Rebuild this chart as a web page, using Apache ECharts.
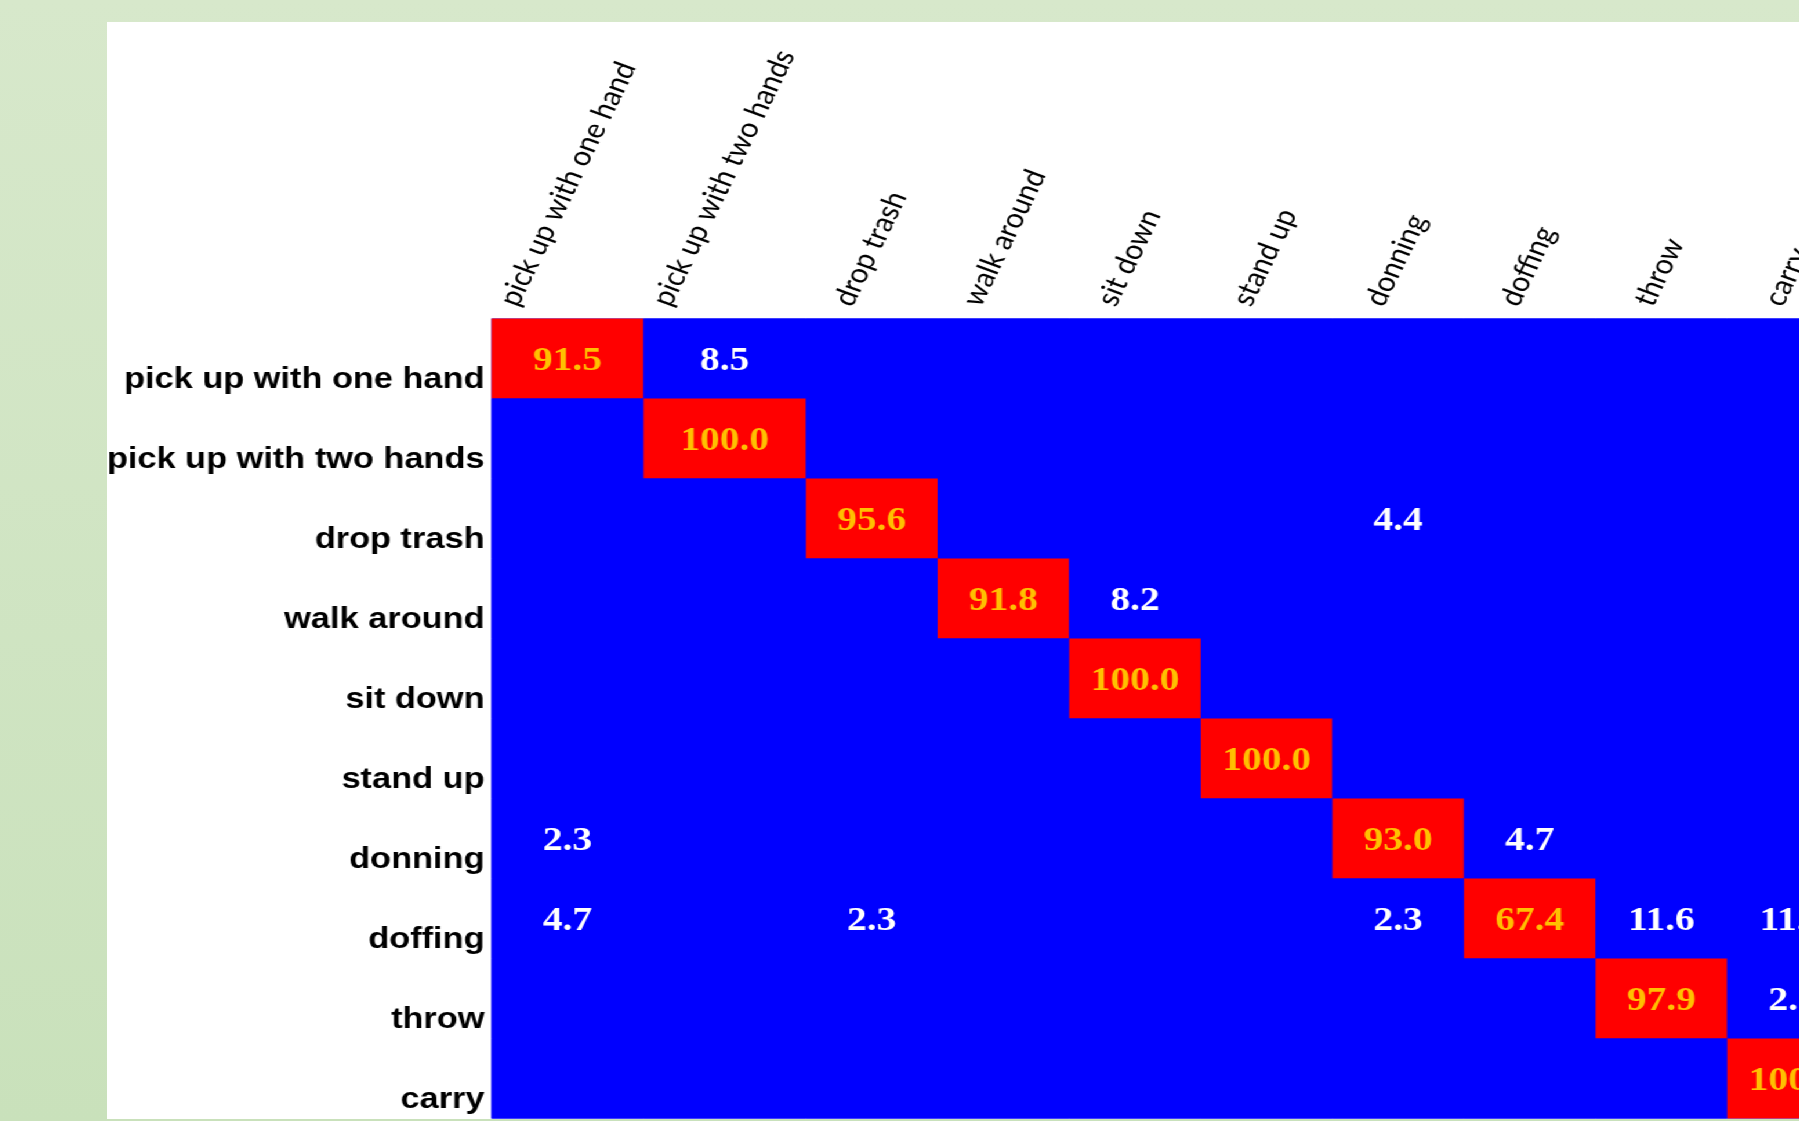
<!DOCTYPE html>
<html>
<head>
<meta charset="utf-8">
<script src="https://cdn.jsdelivr.net/npm/echarts@6/dist/echarts.min.js"></script>
<style>
html, body { margin:0; padding:0; width:1799px; height:1121px; overflow:hidden;
  background: linear-gradient(180deg, #d7e8cb 0%, #c9e1bb 100%); }
#chart { position:absolute; left:107px; top:22px; width:1520px; height:1097px;
  background:#ffffff; transform: scaleX(1.16); transform-origin: 0 0; }
</style>
</head>
<body>
<div id="chart"></div>
<script>
// ---- data ----
const categories = ['pick up with one hand', 'pick up with two hands', 'drop trash', 'walk around',
  'sit down', 'stand up', 'donning', 'doffing', 'throw', 'carry'];
const rowPickOneHand  = [91.5, 8.5, 0, 0, 0, 0, 0, 0, 0, 0];
const rowPickTwoHands = [0, 100.0, 0, 0, 0, 0, 0, 0, 0, 0];
const rowDropTrash    = [0, 0, 95.6, 0, 0, 0, 4.4, 0, 0, 0];
const rowWalkAround   = [0, 0, 0, 91.8, 8.2, 0, 0, 0, 0, 0];
const rowSitDown      = [0, 0, 0, 0, 100.0, 0, 0, 0, 0, 0];
const rowStandUp      = [0, 0, 0, 0, 0, 100.0, 0, 0, 0, 0];
const rowDonning      = [2.3, 0, 0, 0, 0, 0, 93.0, 4.7, 0, 0];
const rowDoffing      = [4.7, 0, 2.3, 0, 0, 0, 2.3, 67.4, 11.6, 11.6];
const rowThrow        = [0, 0, 0, 0, 0, 0, 0, 0, 97.9, 2.1];
const rowCarry        = [0, 0, 0, 0, 0, 0, 0, 0, 0, 100.0];
const rows = [rowPickOneHand, rowPickTwoHands, rowDropTrash, rowWalkAround, rowSitDown,
  rowStandUp, rowDonning, rowDoffing, rowThrow, rowCarry];

// ---- layout (not data) ----
const STRETCH = 1.16;
const colWidths = [152, 162.5, 131.6, 131.6, 131.6, 131.6, 131.6, 131.6, 131.6, 131.6];
const labelShift = [17, 18, 37, 34, 37, 41, 42, 45, 48, 46];
const THRESH = 50;

const edges = [0];
colWidths.forEach(w => edges.push(edges[edges.length - 1] + w));
const totalW = edges[edges.length - 1];
const anchors = colWidths.map((w, i) => edges[i] + labelShift[i]);

const cells = [];
rows.forEach((r, ri) => r.forEach((v, ci) => cells.push([ci, ri, v])));

const chart = echarts.init(document.getElementById('chart'), null, { renderer: 'canvas' });
chart.setOption({
  animation: false,
  grid: { left: (491.5 - 107) / STRETCH, top: 296.5, width: totalW / STRETCH, height: 800,
    containLabel: false, outerBoundsMode: 'none',
    show: true, backgroundColor: '#0000ff', borderWidth: 0 },
  xAxis: {
    type: 'value', position: 'top', min: 0, max: totalW,
    axisLine: { show: false }, axisTick: { show: false }, splitLine: { show: false },
    axisLabel: {
      customValues: anchors, rotate: -67, margin: 14,
      fontFamily: 'Lato', fontSize: 27, color: '#000',
      formatter: function (val) {
        let best = 0, bd = Infinity;
        anchors.forEach((a, i) => { const d = Math.abs(a - val); if (d < bd) { bd = d; best = i; } });
        return categories[best];
      }
    }
  },
  yAxis: {
    type: 'category', data: categories, inverse: true,
    axisLine: { show: false }, axisTick: { show: false }, splitLine: { show: false },
    axisLabel: { fontFamily: 'Liberation Sans', fontWeight: 'bold', fontSize: 29.6, color: '#000',
      margin: 6, verticalAlign: 'top', lineHeight: 43 }
  },
  visualMap: { type: 'piecewise', show: false, dimension: 2, seriesIndex: 0,
    pieces: [{ gte: THRESH, color: '#ff0000' }, { lt: THRESH, color: '#0000ff' }] },
  series: [{
    type: 'custom',
    data: cells,
    encode: { x: 0, y: 1 },
    renderItem: function (params, api) {
      const c = api.value(0), r = api.value(1), v = api.value(2);
      const p0 = api.coord([edges[c], r]);
      const p1 = api.coord([edges[c + 1], r]);
      const h = api.size([0, 1])[1];
      const children = [{
        type: 'rect',
        shape: { x: p0[0], y: p0[1] - h / 2, width: p1[0] - p0[0], height: h },
        style: { fill: api.visual('color') }
      }];
      if (v > 0) {
        children.push({
          type: 'text',
          x: (p0[0] + p1[0]) / 2, y: p0[1] + 3,
          style: { text: v.toFixed(1), fill: v >= THRESH ? '#ffc000' : '#ffffff',
            font: 'bold 34px "Liberation Serif"', align: 'center', verticalAlign: 'middle' }
        });
      }
      return { type: 'group', children: children };
    }
  }]
});
</script>
</body>
</html>
